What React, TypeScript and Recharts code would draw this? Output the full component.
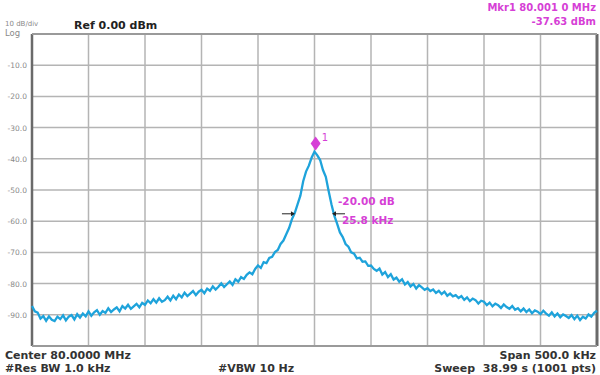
import React from 'react';
import { LineChart, Line, XAxis, YAxis, CartesianGrid, ReferenceLine, ReferenceDot } from 'recharts';

// Sweep: -250 kHz .. +250 kHz around 80.0000 MHz, 2.5 kHz steps
const startKHz = -250;
const stepKHz = 2.5;
const levels: number[] = [
  -87.2, -88.9, -89.3, -91.2, -90.4, -91.9, -90.5, -91.6, -92.0, -90.6,
  -91.4, -90.2, -91.8, -90.6, -90.1, -91.5, -89.8, -90.9, -89.6, -90.5,
  -88.9, -90.3, -89.2, -88.5, -90.0, -88.8, -89.4, -87.9, -89.1, -88.3,
  -87.6, -88.9, -87.2, -88.0, -86.8, -88.1, -87.3, -86.5, -87.6, -86.2,
  -86.8, -85.4, -86.3, -85.0, -86.1, -84.7, -85.8, -85.3, -84.2, -85.4,
  -83.9, -85.0, -83.5, -84.4, -82.9, -84.0, -83.2, -82.4, -83.7, -82.6,
  -82.0, -83.1, -81.6, -82.3, -80.9, -81.9, -81.0, -79.9, -81.1, -80.2,
  -79.3, -80.4, -78.6, -79.4, -77.9, -78.5, -77.2, -76.4, -77.0, -75.3,
  -74.2, -75.0, -73.1, -73.4, -71.8, -71.4, -69.9, -69.2, -67.3, -66.2,
  -64.2, -62.2, -59.4, -57.4, -54.6, -51.8, -47.2, -44.1, -42.2, -39.6,
  -37.7, -38.9, -40.4, -43.6, -45.8, -50.3, -54.6, -58.2, -60.8, -63.6,
  -65.1, -67.3, -68.2, -70.0, -70.4, -71.9, -71.7, -73.0, -72.9, -74.3,
  -74.2, -75.3, -75.9, -75.2, -77.1, -76.3, -77.9, -77.0, -78.7, -78.1,
  -79.4, -78.6, -80.3, -79.5, -80.9, -80.1, -81.6, -80.5, -81.2, -82.0,
  -81.5, -82.4, -81.9, -83.0, -82.3, -83.4, -82.6, -83.9, -83.2, -84.1,
  -83.7, -84.6, -84.0, -85.2, -84.4, -85.6, -84.8, -85.3, -86.4, -85.5,
  -85.8, -86.9, -86.1, -87.3, -86.4, -86.9, -87.8, -86.7, -87.5, -88.1,
  -87.2, -88.4, -87.9, -88.9, -88.0, -89.1, -88.3, -89.5, -88.6, -89.0,
  -89.8, -88.7, -89.6, -90.3, -89.2, -90.5, -89.6, -90.8, -89.9, -90.4,
  -91.0, -90.1, -91.4, -90.3, -91.7, -90.6, -91.2, -89.9, -90.6, -89.4,
  -88.7,
];

const xTicks = [-250, -200, -150, -100, -50, 0, 50, 100, 150, 200, 250];
const yTicks = [-100, -90, -80, -70, -60, -50, -40, -30, -20, -10, 0];

const markerKHz = 1;
const markerLevel = -37.63;
const ndbLeftKHz = -17.3;
const ndbRightKHz = 15.5;
const ndbLevel = -57.63;

const data = levels.map((v, i) => ({ f: startKHz + i * stepKHz, v }));

const MAG = '#d63fd6';
const TRACE = '#1ea3db';
const FONT = '"DejaVu Sans", Verdana, sans-serif';

const YTick = (props: any) => {
  const { y, payload } = props;
  const val = payload.value;
  if (val === 0 || val === -100) return null;
  return (
    <text x={27} y={y} dy={3} textAnchor="end" fontSize={7.5} fill="#8a8a8a" fontFamily={FONT}>
      {val.toFixed(1)}
    </text>
  );
};

const Diamond = (props: any) => {
  const { cx, cy } = props;
  const c = cy - 8;
  return (
    <g>
      <path d={`M${cx} ${c - 7} L${cx + 5} ${c} L${cx} ${c + 7} L${cx - 5} ${c} Z`} fill={MAG} />
      <text x={cx + 6} y={c - 2} fontSize={10} fill={MAG} fontFamily={FONT}>1</text>
    </g>
  );
};

const ArrowRight = (props: any) => {
  const { cx, cy } = props;
  return (
    <g>
      <line x1={cx - 13} y1={cy} x2={cx - 3} y2={cy} stroke="#222" strokeWidth={1} />
      <path d={`M${cx} ${cy} L${cx - 4} ${cy - 2.5} L${cx - 4} ${cy + 2.5} Z`} fill="#222" />
    </g>
  );
};

const ArrowLeft = (props: any) => {
  const { cx, cy } = props;
  return (
    <g>
      <line x1={cx + 3} y1={cy} x2={cx + 13} y2={cy} stroke="#222" strokeWidth={1} />
      <path d={`M${cx} ${cy} L${cx + 4} ${cy - 2.5} L${cx + 4} ${cy + 2.5} Z`} fill="#222" />
      <text x={cx + 6} y={cy - 9} fontSize={10.5} fontWeight="bold" fill={MAG} fontFamily={FONT}>-20.00 dB</text>
      <text x={cx + 10} y={cy + 10} fontSize={10.5} fontWeight="bold" fill={MAG} fontFamily={FONT}>25.8 kHz</text>
    </g>
  );
};

const txt = (style: React.CSSProperties): React.CSSProperties => ({
  position: 'absolute',
  fontFamily: FONT,
  whiteSpace: 'nowrap',
  lineHeight: 1,
  ...style,
});

export default function App() {
  return (
    <div style={{ position: 'absolute', left: 0, top: 0, width: 600, height: 375, background: '#fff', overflow: 'hidden' }}>
      <LineChart width={600} height={375} data={data} margin={{ top: 34, right: 3, bottom: 29, left: 0 }}>
        <CartesianGrid stroke="#b4b4b4" strokeWidth={1.5} />
        <XAxis dataKey="f" type="number" domain={[-250, 250]} ticks={xTicks} hide />
        <YAxis type="number" domain={[-100, 0]} ticks={yTicks} width={32} axisLine={false} tickLine={false} tick={<YTick />} interval={0} />
        <ReferenceLine x={-250} stroke="#6a6a6a" strokeWidth={2.5} />
        <ReferenceLine x={250} stroke="#6a6a6a" strokeWidth={3} />
        <ReferenceLine y={0} stroke="#9a9a9a" strokeWidth={2} />
        <ReferenceLine y={-100} stroke="#9a9a9a" strokeWidth={2} />
        <Line type="linear" dataKey="v" stroke={TRACE} strokeWidth={2.3} dot={false} isAnimationActive={false} />
        <ReferenceDot x={markerKHz} y={markerLevel} r={5} shape={<Diamond />} />
        <ReferenceDot x={ndbLeftKHz} y={ndbLevel} r={3} shape={<ArrowRight />} />
        <ReferenceDot x={ndbRightKHz} y={ndbLevel} r={3} shape={<ArrowLeft />} />
      </LineChart>
      <div style={txt({ left: 5, top: 21, fontSize: 7, color: '#8a8a8a' })}>10 dB/div</div>
      <div style={txt({ left: 5, top: 29, fontSize: 8.5, color: '#8a8a8a' })}>Log</div>
      <div style={txt({ left: 74, top: 20, fontSize: 11, fontWeight: 'bold', color: '#222' })}>Ref 0.00 dBm</div>
      <div style={txt({ right: 4, top: 3, fontSize: 10, fontWeight: 'bold', color: MAG, textAlign: 'right' })}>Mkr1 80.001 0 MHz</div>
      <div style={txt({ right: 4, top: 17, fontSize: 10, fontWeight: 'bold', color: MAG, textAlign: 'right' })}>-37.63 dBm</div>
      <div style={txt({ left: 5, top: 350, fontSize: 11, fontWeight: 'bold', color: '#333' })}>Center 80.0000 MHz</div>
      <div style={txt({ left: 5, top: 363, fontSize: 11, fontWeight: 'bold', color: '#333' })}>#Res BW 1.0 kHz</div>
      <div style={txt({ left: 218, top: 363, fontSize: 11, fontWeight: 'bold', color: '#333' })}>#VBW 10 Hz</div>
      <div style={txt({ right: 4, top: 350, fontSize: 11, fontWeight: 'bold', color: '#333' })}>Span 500.0 kHz</div>
      <div style={txt({ right: 4, top: 363, fontSize: 11, fontWeight: 'bold', color: '#333' })}>Sweep&nbsp;&nbsp;38.99 s (1001 pts)</div>
    </div>
  );
}
